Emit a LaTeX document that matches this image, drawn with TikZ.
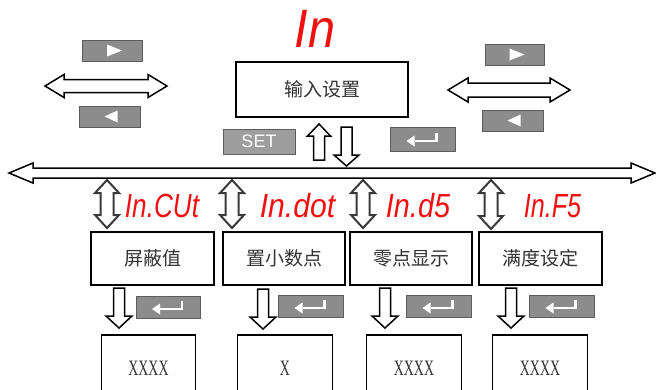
\documentclass[tikz,border=0pt]{standalone}
\usepackage{fontspec}
\setmainfont{Liberation Serif}
\newfontfamily\cjk{Noto Sans CJK SC}
\newfontfamily\segfont{Liberation Sans}
\definecolor{btngray}{HTML}{8C8C8C}
\definecolor{btnedge}{HTML}{5C5C5C}
\definecolor{setgray}{HTML}{9E9E9E}
\definecolor{textgray}{HTML}{333333}
\definecolor{segred}{HTML}{F01010}
\definecolor{arrowgray}{HTML}{3A3A3A}
\newcommand\blkhdouble[7]{\draw[#1] (#2,#4) -- ({#2+#7},{#4-#6}) -- ({#2+#7},{#4-#5}) -- ({#3-#7},{#4-#5}) -- ({#3-#7},{#4-#6}) -- (#3,#4) -- ({#3-#7},{#4+#6}) -- ({#3-#7},{#4+#5}) -- ({#2+#7},{#4+#5}) -- ({#2+#7},{#4+#6}) -- cycle;}
\newcommand\blkvdouble[7]{\draw[#1] (#2,#3) -- ({#2+#6},{#3+#7}) -- ({#2+#5},{#3+#7}) -- ({#2+#5},{#4-#7}) -- ({#2+#6},{#4-#7}) -- (#2,#4) -- ({#2-#6},{#4-#7}) -- ({#2-#5},{#4-#7}) -- ({#2-#5},{#3+#7}) -- ({#2-#6},{#3+#7}) -- cycle;}
\newcommand\blkdown[7]{\draw[#1] ({#2-#5},#3) -- ({#2+#5},#3) -- ({#2+#5},{#4-#7}) -- ({#2+#6},{#4-#7}) -- (#2,#4) -- ({#2-#6},{#4-#7}) -- ({#2-#5},{#4-#7}) -- cycle;}
\newcommand\blkup[7]{\draw[#1] (#2,#3) -- ({#2+#6},{#3+#7}) -- ({#2+#5},{#3+#7}) -- ({#2+#5},#4) -- ({#2-#5},#4) -- ({#2-#5},{#3+#7}) -- ({#2-#6},{#3+#7}) -- cycle;}
\newcommand\rtrisym[1]{\fill[white] ([shift={(-5,-6)}]#1.center) -- ([shift={(-5,6)}]#1.center) -- ([shift={(10,0)}]#1.center) -- cycle;}
\newcommand\ltrisym[1]{\fill[white] ([shift={(-5,0)}]#1.center) -- ([shift={(8,-6)}]#1.center) -- ([shift={(8,6)}]#1.center) -- cycle;}
\newcommand\entersym[1]{\draw[white, line width=2.5pt] ([shift={(14,-6)}]#1.center) -- ([shift={(14,2)}]#1.center) -- ([shift={(-8,2)}]#1.center);
 \fill[white] ([shift={(-16,2)}]#1.center) -- ([shift={(-8,-3.5)}]#1.center) -- ([shift={(-8,7.5)}]#1.center) -- cycle;}
\begin{document}
\begin{tikzpicture}[x=1pt,y=-1pt,
  box/.style={draw=black, line width=1.8pt, fill=white, inner sep=0pt, font=\cjk\fontsize{19}{19}\selectfont, text=textgray},
  valbox/.style={draw=black, line width=1.8pt, fill=white, inner sep=0pt, minimum width=94pt, minimum height=66pt, font=\fontsize{22}{22}\selectfont, text=textgray},
  btn/.style={draw=btnedge, fill=btngray, line width=0.8pt, inner sep=0pt},
  blk/.style={draw=black, fill=white, line width=1.5pt, line join=miter},
  vblk/.style={draw=arrowgray, fill=white, line width=2pt, line join=miter},
  seg/.style={text=segred, font=\segfont\itshape\fontsize{33.5}{33.5}\selectfont, inner sep=0pt, anchor=base}]
\useasboundingbox (0,0) rectangle (656,389);
\clip (0,0) rectangle (656,389);

% title
\node[seg, font=\segfont\itshape\fontsize{54}{54}\selectfont] (title) at (315,47) {\scalebox{0.9}[1]{In}};

% top box
\node[box, minimum width=172pt, minimum height=55pt] (top) at (322,89.5) {\raisebox{-3pt}{输入设置}};

% side buttons and arrows
\node[btn, minimum width=60pt, minimum height=21pt] (lr) at (112,50.5) {};
\node[btn, minimum width=61pt, minimum height=21pt] (ll) at (109.5,116.5) {};
\node[btn, minimum width=59pt, minimum height=21pt] (rr) at (514.5,54.5) {};
\node[btn, minimum width=61pt, minimum height=21pt] (rl) at (512.5,120.5) {};
\rtrisym{lr}\ltrisym{ll}\rtrisym{rr}\ltrisym{rl}
\blkhdouble{blk}{45}{167}{86}{6.5}{11.5}{19}
\blkhdouble{blk}{448}{570}{90}{7}{12}{20}

% set and enter
\node[btn, fill=setgray, minimum width=72pt, minimum height=25pt, text=white, font=\segfont\fontsize{18}{18}\selectfont] (set) at (259,141.5) {SET};
\node[btn, minimum width=65pt, minimum height=24pt] (ent) at (422.5,139) {};
\entersym{ent}
\blkup{blk}{319}{124}{160}{5.5}{11.5}{12}
\blkdown{blk}{346.5}{127}{166}{5.5}{12.5}{11}

% bus
\blkhdouble{blk}{9}{655}{173}{5}{10}{24}

% menu items
\node[box, minimum width=123pt, minimum height=53pt] (m1) at (152.5,258.5) {\raisebox{-4pt}{屏蔽值}};
\node[box, minimum width=122pt, minimum height=53pt] (m2) at (284,258.5) {\raisebox{-4pt}{置小数点}};
\node[box, minimum width=122pt, minimum height=53pt] (m3) at (411,258.5) {\raisebox{-4pt}{零点显示}};
\node[box, minimum width=123pt, minimum height=53pt] (m4) at (540.5,258.5) {\raisebox{-4pt}{满度设定}};

\blkvdouble{vblk}{107}{180}{228}{6.5}{12}{13}
\blkvdouble{vblk}{232}{180}{228}{6.5}{12}{13}
\blkvdouble{vblk}{363}{180}{228}{6.5}{12}{13}
\blkvdouble{vblk}{491}{180}{229}{6.5}{12}{13}

\node[seg] (c1) at (162,217) {\scalebox{0.78}[1]{In.CUt}};
\node[seg] (c2) at (297.5,217) {\scalebox{0.9}[1]{In.dot}};
\node[seg] (c3) at (418,217) {\scalebox{0.86}[1]{In.d5}};
\node[seg] (c4) at (552.5,217) {\scalebox{0.75}[1]{In.F5}};

% enter buttons
\node[btn, minimum width=64pt, minimum height=22pt] (e1) at (168,307) {};
\node[btn, minimum width=65pt, minimum height=22pt] (e2) at (310.5,306) {};
\node[btn, minimum width=65pt, minimum height=22pt] (e3) at (438.5,306) {};
\node[btn, minimum width=65pt, minimum height=22pt] (e4) at (561.5,306) {};
\entersym{e1}\entersym{e2}\entersym{e3}\entersym{e4}

\blkdown{blk}{119}{288}{328}{5.5}{13}{12}
\blkdown{blk}{263}{289}{329}{5.5}{13}{12}
\blkdown{blk}{385}{288}{328}{5.5}{13}{12}
\blkdown{blk}{511}{288}{328}{5.5}{13}{12}

% value boxes
\node[valbox] (v1) at (148.5,368) {\scalebox{0.63}[1]{XXXX}};
\node[valbox, minimum width=95pt] (v2) at (285,368) {\scalebox{0.63}[1]{X}};
\node[valbox, minimum width=95pt] (v3) at (414,368) {\scalebox{0.63}[1]{XXXX}};
\node[valbox, minimum width=95pt] (v4) at (540,368) {\scalebox{0.63}[1]{XXXX}};
\end{tikzpicture}
\end{document}
